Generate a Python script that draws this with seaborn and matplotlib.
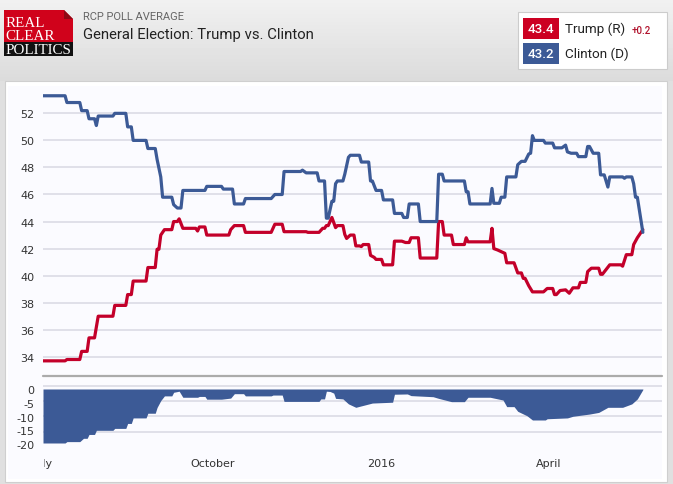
import numpy as np
import pandas as pd
import matplotlib
matplotlib.use("Agg")
import matplotlib.pyplot as plt
import seaborn as sns
from matplotlib.patches import Rectangle, Polygon
from matplotlib.transforms import Bbox

# days since 2015-07-01
clinton_days = [0, 12, 13, 20, 21, 24, 25, 28, 29, 30, 38, 39, 45, 46, 48, 49, 56, 57, 61, 62, 64, 65, 70, 71, 73, 75, 76,
                88, 89, 97, 98, 103, 104, 109, 110, 124, 126, 130, 131, 140, 141, 143, 149, 150, 153, 154, 155, 157, 158,
                159, 160, 163, 164, 166, 167, 172, 173, 177, 178, 179, 181, 184, 185, 190, 191, 195, 196, 198, 199, 204,
                205, 214, 215, 217, 218, 229, 230, 231, 232, 243, 244, 245, 248, 249, 251, 252, 257, 258, 260, 262, 264,
                265, 266, 267, 272, 273, 277, 278, 282, 284, 285, 287, 290, 291, 295, 296, 297, 299, 302, 303, 305, 307,
                308, 315, 316, 317, 320, 321, 322, 323, 326]
clinton_vals = [53.3, 53.3, 52.8, 52.8, 52.2, 52.2, 51.6, 51.6, 51.1, 51.8, 51.8, 52, 52, 51, 51, 50, 50, 49.4, 49.4, 48.6,
                47.3, 45.8, 45.8, 45.25, 45, 45, 46.3, 46.3, 46.6, 46.6, 46.4, 46.4, 45.3, 45.3, 45.7, 45.7, 46, 46, 47.7,
                47.7, 47.8, 47.6, 47.6, 47, 47, 44.25, 44.25, 45.5, 45.5, 46.8, 47, 47, 47.5, 48.75, 48.9, 48.9, 48.4, 48.4,
                47, 47, 46.3, 46.3, 45.6, 45.6, 44.6, 44.6, 44.3, 44.3, 45.3, 45.3, 44, 44, 47.5, 47.5, 47, 47, 46.2, 46.2,
                45.3, 45.3, 46.45, 45.35, 45.35, 45.8, 45.8, 47.3, 47.3, 48.2, 48.45, 48.45, 49, 49.05, 50.35, 50, 50, 49.8,
                49.8, 49.45, 49.45, 49.65, 49.15, 49.05, 49.05, 48.8, 48.8, 49.55, 49.55, 49.05, 49.05, 47.45, 47.45, 46.55,
                47.3, 47.3, 47.2, 47.3, 47.3, 46.8, 45.8, 45.8, 43.2]

trump_days = [0, 12, 13, 20, 21, 24, 25, 28, 30, 38, 39, 45, 46, 48, 49, 56, 57, 61, 62, 63, 64, 66, 70, 71, 73, 74, 76, 83,
              84, 85, 88, 89, 101, 102, 104, 109, 110, 124, 126, 130, 131, 143, 144, 150, 152, 153, 154, 155, 157, 159,
              160, 163, 164, 165, 167, 169, 170, 172, 173, 174, 177, 178, 180, 181, 184, 185, 190, 191, 195, 197, 199,
              200, 204, 205, 214, 215, 217, 218, 222, 223, 229, 230, 231, 243, 244, 245, 247, 251, 252, 256, 258, 260,
              261, 262, 264, 266, 272, 274, 277, 278, 279, 281, 284, 286, 288, 291, 292, 295, 296, 298, 302, 303, 304,
              308, 314, 315, 317, 320, 321, 323, 326]
trump_vals = [33.7, 33.7, 33.8, 33.8, 34.4, 34.4, 35.4, 35.4, 37, 37, 37.8, 37.8, 38.6, 38.6, 39.6, 39.6, 40.6, 40.6, 41.95,
              41.95, 43, 43.4, 43.4, 44, 44, 44.2, 43.5, 43.5, 43.3, 43.6, 43.6, 43, 43, 43.4, 43.7, 43.7, 43.2, 43.2, 43.8,
              43.8, 43.25, 43.25, 43.2, 43.2, 43.5, 43.5, 43.7, 43.7, 44.3, 43.55, 43.7, 43.7, 43.05, 42.75, 43, 43, 42.2,
              42.2, 42.15, 42.3, 42.3, 41.5, 41.35, 41.2, 41.2, 40.8, 40.8, 42.55, 42.55, 42.45, 42.45, 42.8, 42.8, 41.3,
              41.3, 44, 44, 43, 43, 42.3, 42.3, 42.8, 42.5, 42.5, 43.5, 42, 41.9, 41.65, 40.95, 40.95, 40.2, 40.2, 39.8, 39.8,
              39.25, 38.8, 38.8, 39.05, 39.05, 38.6, 38.6, 38.9, 38.95, 38.7, 39.1, 39.1, 39.5, 39.5, 40.3, 40.55, 40.55,
              40.1, 40.1, 40.8, 40.8, 40.7, 41.55, 41.55, 42.3, 42.8, 43.4]

spread_days = [0, 12, 13, 20, 22, 24, 25, 28, 29, 38, 39, 45, 46, 48, 49, 56, 57, 61, 62, 64, 66, 70, 71, 74, 76, 84, 85, 88,
               89, 97, 102, 104, 109, 110, 124, 125, 130, 131, 150, 151, 153, 154, 156, 158, 159, 163, 166, 170, 172, 179,
               190, 191, 198, 200, 212, 215, 222, 229, 231, 243, 250, 252, 256, 258, 263, 266, 273, 274, 285, 288, 297,
               302, 307, 315, 320, 323, 326]
spread_vals = [-19.6, -19.6, -19.1, -19.1, -17.9, -17.9, -16.5, -16.5, -15, -15, -14.3, -14.3, -12.5, -12.5, -10.5, -10.5,
               -8.8, -8.8, -6.7, -4.2, -2.5, -2.5, -1.2, -0.8, -3, -3, -2.7, -2.7, -3.7, -3.7, -3.3, -1.7, -1.7, -2.5, -2.5,
               -2.2, -2.2, -4.5, -4.5, -3.6, -3.6, -0.8, -0.9, -1.5, -3.4, -3.6, -5.4, -6.65, -6.3, -5.1, -4.8, -1.9, -1.8,
               -2.4, -2.8, -3.4, -4.6, -4.6, -3, -3, -4, -6.4, -6.4, -8.1, -9.7, -11.25, -11.25, -10.8, -10.5, -9.9, -9.1,
               -8.5, -6.65, -6.65, -5.4, -3.6, -0.2]

main_ticks = [34, 36, 38, 40, 42, 44, 46, 48, 50, 52]
spread_ticks = [0, -5, -10, -15, -20]
spread_grid = [0.98, -4.46, -9.91, -15.5]
x_tick_dates = ["2015-07-01", "2015-10-01", "2016-01-01", "2016-04-01"]
x_tick_labels = ["July", "October", "2016", "April"]

RED = "#c3002a"
BLUE = "#3c5a96"
GRID = "#d9d9e3"
W, H = 673, 485

sns.set_style("white")
plt.rcParams["font.family"] = ["Roboto", "DejaVu Sans"]
plt.rcParams["axes.unicode_minus"] = False

start = pd.Timestamp("2015-07-01")


def to_dates(days):
    return start + pd.to_timedelta(days, unit="D")


lines = pd.concat([
    pd.DataFrame({"date": to_dates(trump_days), "value": trump_vals, "who": "Trump"}),
    pd.DataFrame({"date": to_dates(clinton_days), "value": clinton_vals, "who": "Clinton"}),
])


def px_axes(left, top, right, bottom):
    return fig.add_axes([left / W, 1 - bottom / H, (right - left) / W, (bottom - top) / H])


fig = plt.figure(figsize=(W / 100, H / 100), dpi=100)

# page background, panel, logo and legend box are laid out in pixels
bg = px_axes(0, 0, W, H)
bg.set_xlim(0, W)
bg.set_ylim(H, 0)
bg.axis("off")
shade = np.r_[np.linspace(0.945, 0.86, 82), np.full(403, 0.875)].reshape(-1, 1)
bg.imshow(shade, cmap="gray", vmin=0, vmax=1, extent=[0, W, H, 0], aspect="auto")
bg.add_patch(Rectangle((5, 82), 662, 401, fc="white", ec="#cfcfcf", lw=0.8))
bg.add_patch(Rectangle((8, 87), 654, 393, fc="#fbfbff", ec="none"))

# logo
bg.add_patch(Polygon([(4, 11), (64, 11), (73, 20), (73, 44), (4, 44)], fc="#d0021b", ec="none"))
bg.add_patch(Polygon([(64, 11), (73, 20), (64, 20)], fc="#8e0a16", ec="none"))
bg.add_patch(Rectangle((4, 43), 69, 14, fc="#111111", ec="none"))
for word, y in zip(["REAL", "CLEAR", "POLITICS"], [23.5, 36.5, 50]):
    bg.text(5.5, y, word, family="Liberation Serif", fontsize=10.8, color="white", va="center", ha="left")

bg.text(83, 17, "RCP POLL AVERAGE", fontsize=8, color="#666666", va="center")
bg.text(83, 35, "General Election: Trump vs. Clinton", fontsize=10.75, color="#222222", va="center")

# legend box
bg.add_patch(Rectangle((518, 13), 149, 57, fc="white", ec="#cccccc", lw=0.8))
bg.add_patch(Rectangle((523, 19), 36, 21, fc="#cc0022", ec="none"))
bg.add_patch(Rectangle((523, 44), 36, 21, fc=BLUE, ec="none"))
bg.text(541, 29.5, "43.4", color="white", fontsize=9.6, ha="center", va="center", fontweight="medium")
bg.text(541, 54.5, "43.2", color="white", fontsize=9.6, ha="center", va="center", fontweight="medium")
bg.text(565, 29.5, "Trump (R)", color="#222222", fontsize=9.7, va="center")
bg.text(565, 54.5, "Clinton (D)", color="#222222", fontsize=9.7, va="center")
bg.text(632, 30.5, "+0.2", color="#b0112b", fontsize=7, va="center", fontweight="medium")

xlim = (start, start + pd.Timedelta(days=336.4))

# main lines
ax = px_axes(43, 90, 662, 377)
ax.patch.set_alpha(0)
sns.lineplot(data=lines, x="date", y="value", hue="who", palette={"Trump": RED, "Clinton": BLUE},
             hue_order=["Trump", "Clinton"], estimator=None, sort=False, legend=False, linewidth=2.3, ax=ax, zorder=3)
ax.set_xlim(xlim)
ax.set_ylim(32.58, 53.8)
ax.set_yticks(main_ticks)
ax.set_xticks([])
ax.set_xlabel("")
ax.set_ylabel("")
ax.grid(axis="y", color=GRID, lw=1.1)
ax.tick_params(axis="y", length=0, pad=6, labelsize=8, labelcolor="#333333", labelfontfamily="DejaVu Sans")
sns.despine(ax=ax, left=True, top=True, right=True, bottom=True)

# separator between the panels
bg.plot([43, 662], [377, 377], color="#ababab", lw=1.6, zorder=5)

# spread panel
ax2 = px_axes(43, 380, 662, 478)
ax2.patch.set_alpha(0)
ax2.hlines(spread_grid, 0, 1, transform=ax2.get_yaxis_transform(), color=GRID, lw=1.1, zorder=1)
ax2.fill_between(to_dates(spread_days), spread_vals, 0, color=BLUE, lw=0, zorder=2)
ax2.set_xlim(xlim)
ax2.set_ylim(-(478 - 390) / 2.755, 10 / 2.755)
ax2.set_yticks(spread_ticks)
ax2.set_xticks(pd.to_datetime(x_tick_dates))
ax2.set_xticklabels(x_tick_labels)
ax2.tick_params(axis="y", length=0, pad=6, labelsize=8, labelcolor="#333333", labelfontfamily="DejaVu Sans")
ax2.tick_params(axis="x", length=0, pad=-14, labelsize=8, labelcolor="#333333", labelfontfamily="DejaVu Sans")
sns.despine(ax=ax2, left=True, top=True, right=True, bottom=True)

# the first month label is cut off at the plot edge in the original
july = ax2.get_xticklabels()[0]
july.set_clip_box(Bbox([[44, 0], [W, H]]))
july.set_clip_on(True)

fig.savefig("out.png", dpi=100)
